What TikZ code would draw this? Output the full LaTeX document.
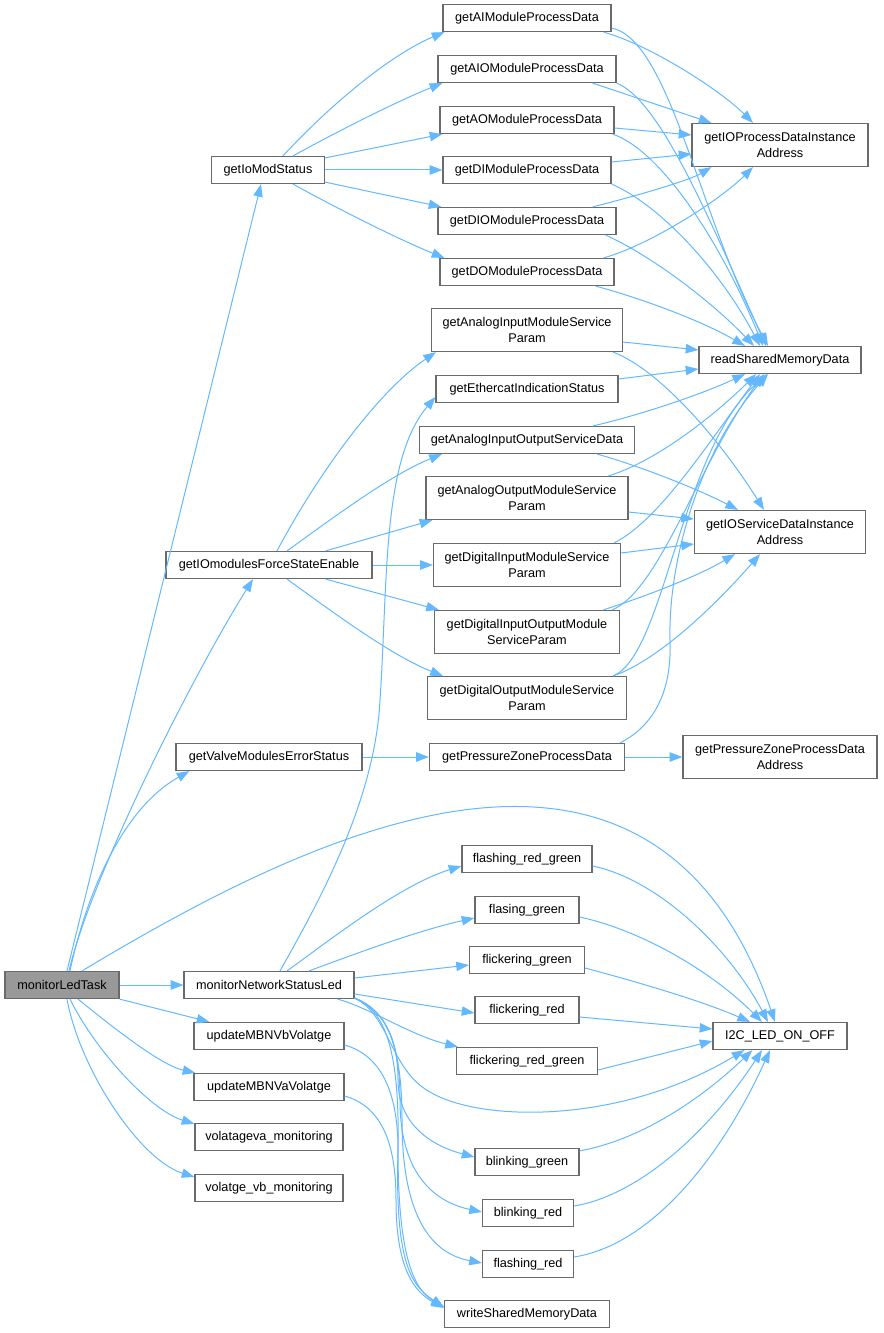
\documentclass[tikz,border=0pt]{standalone}
\usepackage{fontspec}
\setmainfont{Liberation Sans}
\usetikzlibrary{arrows.meta,calc}
\definecolor{edgeblue}{HTML}{63B8FF}
\definecolor{boxgray}{HTML}{6A6A6A}
\definecolor{mlgray}{HTML}{999999}
\begin{document}
\begin{tikzpicture}[x=0.75pt,y=-0.75pt,
  box/.style={draw=boxgray, fill=white, line width=0.9pt, inner sep=0pt,
    minimum height=27*0.75pt, font=\fontsize{9.5}{12}\selectfont, align=center},
  tall/.style={minimum height=43*0.75pt},
  wd/.style={minimum width=#1*0.75pt},
  edge/.style={draw=edgeblue, line width=0.75pt, -{Triangle[length=9.5pt,width=7pt]}}]
\useasboundingbox (0,0) rectangle (883,1333);
% rank 0
\node[box, wd=114, fill=mlgray] (ml) at (62,985) {monitorLedTask};
% rank 1
\node[box, wd=113] (gims) at (268,170) {getIoModStatus};
\node[box, wd=206] (gfse) at (269,565) {getIOmodulesForceStateEnable};
\node[box, wd=186] (gvmes) at (269,757) {getValveModulesErrorStatus};
\node[box, wd=170] (mnsl) at (269,985) {monitorNetworkStatusLed};
\node[box, wd=150] (umb) at (269,1036) {updateMBNVbVolatge};
\node[box, wd=150] (uma) at (269,1087) {updateMBNVaVolatge};
\node[box, wd=148] (vva) at (269,1137) {volatageva\_monitoring};
\node[box, wd=148] (vvb) at (269,1188) {volatge\_vb\_monitoring};
% rank 2
\node[box, wd=168] (gai) at (527,18) {getAIModuleProcessData};
\node[box, wd=178] (gaio) at (527,69) {getAIOModuleProcessData};
\node[box, wd=174] (gao) at (527,120) {getAOModuleProcessData};
\node[box, wd=168] (gdi) at (527,170) {getDIModuleProcessData};
\node[box, wd=178] (gdio) at (527,221) {getDIOModuleProcessData};
\node[box, wd=174] (gdo) at (527,272) {getDOModuleProcessData};
\node[box, tall, wd=191] (gaimsp) at (527,330) {getAnalogInputModuleService\\Param};
\node[box, wd=182] (geis) at (527,389) {getEthercatIndicationStatus};
\node[box, wd=215] (gaiosd) at (527,440) {getAnalogInputOutputServiceData};
\node[box, tall, wd=202] (gaomsp) at (527,498) {getAnalogOutputModuleService\\Param};
\node[box, tall, wd=187] (gdimsp) at (527,565) {getDigitalInputModuleService\\Param};
\node[box, tall, wd=185] (gdiomsp) at (527,632) {getDigitalInputOutputModule\\ServiceParam};
\node[box, tall, wd=199] (gdomsp) at (527,698) {getDigitalOutputModuleService\\Param};
\node[box, wd=195] (gpzpd) at (527,757) {getPressureZoneProcessData};
\node[box, wd=130] (frg) at (527,859) {flashing\_red\_green};
\node[box, wd=104] (fg) at (527,910) {flasing\_green};
\node[box, wd=115] (flg) at (527,960) {flickering\_green};
\node[box, wd=104] (flr) at (527,1010) {flickering\_red};
\node[box, wd=141] (flrg) at (527,1061) {flickering\_red\_green};
\node[box, wd=104] (bg) at (527,1162) {blinking\_green};
\node[box, wd=91] (br) at (528,1213) {blinking\_red};
\node[box, wd=91] (fr) at (528,1264) {flashing\_red};
\node[box, wd=165] (wsmd) at (527,1314) {writeSharedMemoryData};
% rank 3
\node[box, tall, wd=176] (iopd) at (780,145) {getIOProcessDataInstance\\Address};
\node[box, wd=162] (rsmd) at (780,360) {readSharedMemoryData};
\node[box, tall, wd=171] (iosd) at (780,532) {getIOServiceDataInstance\\Address};
\node[box, tall, wd=194] (gpzpda) at (780,757) {getPressureZoneProcessData\\Address};
\node[box, wd=134] (i2c) at (780,1036) {I2C\_LED\_ON\_OFF};

% ---- edges from monitorLedTask
\draw[edge] ($(ml.north)+(5,0)$) -- ($(gims.south)+(-7,0)$);
\draw[edge] ($(ml.north)+(7,0)$) .. controls (90,880) and (190,680) .. ($(gfse.south)+(-16,0)$);
\draw[edge] ($(ml.north)+(8,0)$) .. controls (85,900) and (120,810) .. ($(gvmes.south west)+(14,0)$);
\draw[edge] ($(ml.north)+(20,0)$) .. controls (300,840) and (650,660) .. ($(i2c.north)+(-5,0)$);
\draw[edge] (ml) -- (mnsl);
\draw[edge] ($(ml.south east)+(0,0)$) -- ($(umb.north west)+(16,0)$);
\draw[edge] ($(ml.south)+(16,0)$) .. controls (110,1025) and (160,1065) .. ($(uma.north west)+(2,0)$);
\draw[edge] ($(ml.south)+(8,0)$) .. controls (95,1050) and (150,1110) .. ($(vva.north west)+(0,1)$);
\draw[edge] ($(ml.south)+(5,0)$) .. controls (80,1070) and (140,1160) .. ($(vvb.north west)+(0,3)$);

% ---- getIoModStatus
\draw[edge] ($(gims.north)+(15,0)$) .. controls (330,105) and (390,55) .. ($(gai.south west)+(2,0)$);
\draw[edge] ($(gims.north)+(25,0)$) .. controls (340,130) and (400,100) .. ($(gaio.south west)+(5,0)$);
\draw[edge] ($(gims.north east)+(0,2)$) -- ($(gao.south west)+(3,0)$);
\draw[edge] (gims) -- (gdi);
\draw[edge] ($(gims.south east)+(0,-2)$) -- ($(gdio.north west)+(4,0)$);
\draw[edge] ($(gims.south)+(25,0)$) .. controls (340,210) and (400,240) .. ($(gdo.north west)+(5,0)$);

% ---- process data getters
\draw[edge] ($(gai.south east)+(-8,0)$) .. controls (650,45) and (720,90) .. ($(iopd.north)+(-27,0)$);
\draw[edge] ($(gai.east)+(0,10)$) .. controls (670,40) and (700,220) .. ($(rsmd.north)+(-12,0)$);
\draw[edge] ($(gaio.south east)+(-24,0)$) -- ($(iopd.north west)+(20,0)$);
\draw[edge] ($(gaio.south east)+(0,0)$) .. controls (660,100) and (710,220) .. ($(rsmd.north)+(-14,0)$);
\draw[edge] ($(gao.east)+(0,8)$) -- ($(iopd.west)+(0,-10)$);
\draw[edge] ($(gao.south east)+(-2,0)$) .. controls (660,150) and (720,240) .. ($(rsmd.north)+(-17,0)$);
\draw[edge] ($(gdi.east)+(0,-8)$) -- ($(iopd.west)+(0,9)$);
\draw[edge] ($(gdi.south east)+(0,0)$) .. controls (660,205) and (720,270) .. ($(rsmd.north)+(-20,0)$);
\draw[edge] ($(gdio.north east)+(-24,0)$) .. controls (640,195) and (690,180) .. ($(iopd.south west)+(20,0)$);
\draw[edge] ($(gdio.south east)+(-11,0)$) .. controls (650,255) and (710,300) .. ($(rsmd.north)+(-26,0)$);
\draw[edge] ($(gdo.north east)+(-11,0)$) .. controls (650,245) and (720,200) .. ($(iopd.south)+(-27,0)$);
\draw[edge] ($(gdo.south east)+(-19,0)$) .. controls (640,298) and (700,320) .. ($(rsmd.north)+(-35,0)$);

% ---- getIOmodulesForceStateEnable
\draw[edge] ($(gfse.north)+(8,0)$) .. controls (320,470) and (380,390) .. ($(gaimsp.south west)+(5,0)$);
\draw[edge] ($(gfse.north)+(18,0)$) .. controls (330,520) and (390,475) .. ($(gaiosd.south west)+(23,0)$);
\draw[edge] ($(gfse.north east)+(-47,0)$) -- ($(gaomsp.south west)+(7,0)$);
\draw[edge] (gfse) -- (gdimsp);
\draw[edge] ($(gfse.south east)+(-47,0)$) -- ($(gdiomsp.north west)+(5,0)$);
\draw[edge] ($(gfse.south)+(18,0)$) .. controls (330,610) and (390,655) .. ($(gdomsp.north west)+(16,0)$);

\draw[edge] (gvmes) -- (gpzpd);
\draw[edge] (gpzpd) -- (gpzpda);
\draw[edge] ($(gpzpd.north east)+(-5,0)$) .. controls (655,725) and (672,690) .. (670,640)
   .. controls (668,560) and (700,450) .. ($(rsmd.south)+(-12,0)$);

% ---- service param getters
\draw[edge] ($(gaimsp.east)+(0,12)$) -- ($(rsmd.west)+(0,-10)$);
\draw[edge] ($(gaimsp.south east)+(-10,0)$) .. controls (660,370) and (720,440) .. ($(iosd.north)+(-16,0)$);
\draw[edge] ($(geis.east)+(0,-10)$) -- ($(rsmd.west)+(0,9)$);
\draw[edge] ($(gaiosd.north east)+(-42,0)$) .. controls (640,415) and (700,395) .. ($(rsmd.south)+(-35,0)$);
\draw[edge] ($(gaiosd.south east)+(-38,0)$) .. controls (640,466) and (700,490) .. ($(iosd.north)+(-42,0)$);
\draw[edge] ($(gaomsp.north east)+(-20,0)$) .. controls (660,460) and (720,410) .. ($(rsmd.south)+(-24,0)$);
\draw[edge] ($(gaomsp.east)+(0,14)$) -- ($(iosd.west)+(0,-13)$);
\draw[edge] ($(gdimsp.north east)+(-7,0)$) .. controls (660,520) and (710,440) .. ($(rsmd.south)+(-20,0)$);
\draw[edge] ($(gdimsp.east)+(0,-12)$) -- ($(iosd.west)+(0,12)$);
\draw[edge] ($(gdiomsp.north east)+(-8,0)$) .. controls (660,590) and (700,460) .. ($(rsmd.south)+(-16,0)$);
\draw[edge] ($(gdiomsp.north east)+(-17,0)$) .. controls (650,595) and (700,575) .. ($(iosd.south)+(-45,0)$);
\draw[edge] ($(gdomsp.north east)+(-14,0)$) .. controls (665,655) and (680,450) .. ($(rsmd.south)+(-13,0)$);
\draw[edge] ($(gdomsp.north east)+(-14,0)$) .. controls (660,660) and (720,600) .. ($(iosd.south)+(-20,0)$);

% ---- monitorNetworkStatusLed
\draw[edge] ($(mnsl.north)+(11,0)$) .. controls (320,900) and (375,800) .. (380,700)
   .. controls (388,580) and (382,460) .. ($(geis.west)+(0,8)$);
\draw[edge] ($(mnsl.north)+(18,0)$) .. controls (330,940) and (400,885) .. ($(frg.west)+(0,7)$);
\draw[edge] ($(mnsl.north)+(40,0)$) .. controls (360,952) and (420,930) .. ($(fg.west)+(0,8)$);
\draw[edge] ($(mnsl.east)+(0,-7)$) -- ($(flg.west)+(0,5)$);
\draw[edge] ($(mnsl.east)+(0,9)$) -- ($(flr.west)+(0,3)$);
\draw[edge] ($(mnsl.south east)+(-17,0)$) .. controls (370,1008) and (410,1035) .. ($(flrg.north west)+(2,0)$);
\draw[edge] ($(mnsl.south east)+(0,-1)$) .. controls (390,1015) and (390,1070) .. (430,1092)
   .. controls (480,1122) and (620,1125) .. ($(i2c.south west)+(32,0)$);
\draw[edge] ($(mnsl.south east)+(0,-1)$) .. controls (385,1010) and (398,1040) .. (398,1080)
   .. controls (398,1130) and (440,1148) .. ($(bg.west)+(0,-5)$);
\draw[edge] ($(mnsl.south east)+(0,-1)$) .. controls (385,1010) and (400,1040) .. (400,1100)
   .. controls (400,1180) and (440,1203) .. ($(br.west)+(0,-1)$);
\draw[edge] ($(mnsl.south east)+(0,-1)$) .. controls (385,1010) and (402,1040) .. (402,1120)
   .. controls (402,1230) and (440,1255) .. ($(fr.west)+(0,-1)$);
\draw[edge] ($(mnsl.south east)+(0,-1)$) .. controls (385,1010) and (400,1050) .. (398,1150)
   .. controls (395,1260) and (410,1285) .. ($(wsmd.west)+(0,-7)$);
\draw[edge] ($(umb.east)+(0,9)$) .. controls (380,1055) and (398,1090) .. (398,1150)
   .. controls (398,1260) and (415,1290) .. ($(wsmd.west)+(0,-7)$);
\draw[edge] ($(uma.east)+(0,9)$) .. controls (380,1106) and (396,1140) .. (396,1200)
   .. controls (396,1270) and (415,1292) .. ($(wsmd.west)+(0,-6)$);

% ---- LED patterns to I2C
\draw[edge] ($(frg.east)+(0,7)$) .. controls (660,880) and (730,950) .. ($(i2c.north)+(-12,0)$);
\draw[edge] ($(fg.east)+(0,7)$) .. controls (640,930) and (710,970) .. ($(i2c.north)+(-18,0)$);
\draw[edge] ($(flg.east)+(0,8)$) .. controls (630,980) and (700,1000) .. ($(i2c.north)+(-30,0)$);
\draw[edge] ($(flr.east)+(0,7)$) -- ($(i2c.west)+(0,-7)$);
\draw[edge] ($(flrg.east)+(0,9)$) -- ($(i2c.west)+(0,5)$);
\draw[edge] ($(bg.north east)+(0,3)$) .. controls (640,1140) and (700,1100) .. ($(i2c.south west)+(40,0)$);
\draw[edge] ($(br.east)+(0,-7)$) .. controls (640,1195) and (710,1130) .. ($(i2c.south)+(-18,0)$);
\draw[edge] ($(fr.east)+(0,-7)$) .. controls (650,1245) and (720,1160) .. ($(i2c.south)+(-10,0)$);
\end{tikzpicture}
\end{document}
